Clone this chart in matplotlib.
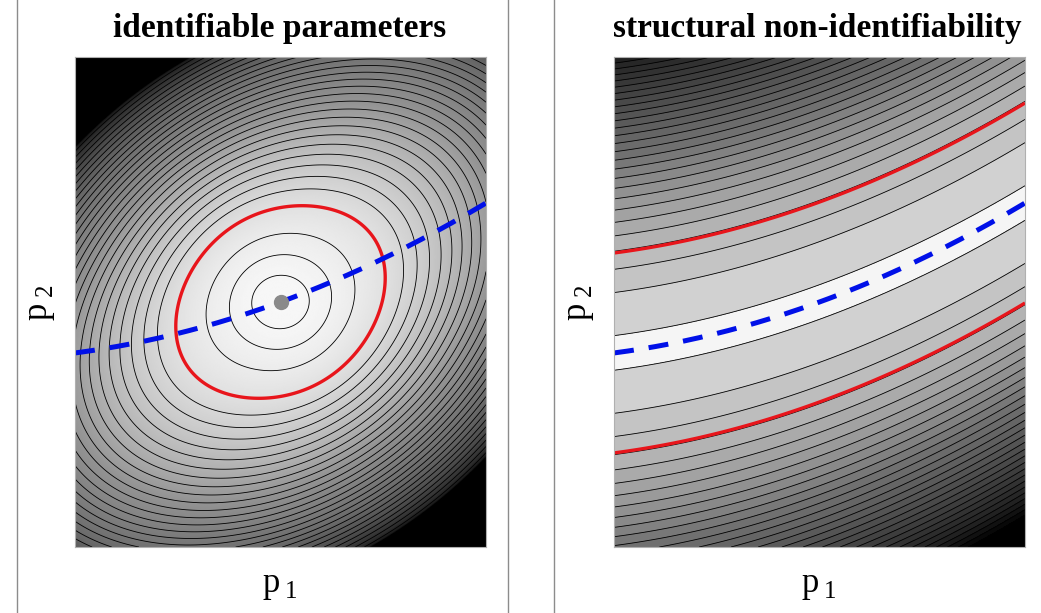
import numpy as np
import matplotlib.pyplot as plt
from matplotlib.lines import Line2D

plt.rcParams['font.family'] = ['Liberation Serif', 'DejaVu Serif']

titles = ["identifiable parameters", "structural non-identifiability"]

# profile path p2 = v1*p1 + v2*p1^2 (same in both panels)
valley = [0.306, 0.098]
# left: a*p1^2 + c*p2^2 + 2*b*t*p1*p2, the tilt t grows with distance from the optimum
quad = [4.09, -2.02, 6.73]
rho0 = 0.4
# right: only the distance w from the valley matters, red at |w| = w_red
w_red = 0.408
red_level = 1.0

# contour levels (red contour = 1)
left_levels = [0.08, 0.25, 0.52] + list(np.arange(1.36, 14.0, 0.3))
right_levels = list(0.03 + 0.335 * np.arange(0, 41))

# shading: left is smooth, right is banded
left_f = [0, 1, 4, 6.5, 7.8, 8.7, 9.05, 9.1, 30]
left_gray = [0.97, 0.88, 0.58, 0.42, 0.30, 0.18, 0.10, 0.0, 0.0]
band_k = [0, 1, 2, 3, 4, 12, 26, 30, 45]
band_gray = [0.96, 0.82, 0.77, 0.74, 0.70, 0.44, 0.13, 0.0, 0.0]

n = 600
p1 = np.linspace(-1, 1, n)
p2 = np.linspace(-1, 1, n)
X, Y = np.meshgrid(p1, p2)
a, b, c = quad
R2 = X**2 + Y**2
T = R2 / (R2 + rho0**2)
F_left = a * X**2 + c * Y**2 + 2 * b * T * X * Y
F_right = ((Y - valley[0] * X - valley[1] * X**2) / w_red) ** 2
path = valley[0] * p1 + valley[1] * p1**2

fig = plt.figure(figsize=(10.41, 6.13), dpi=100)
ax1 = fig.add_axes([75 / 1041, 1 - 547 / 613, 411 / 1041, 490 / 613])
ax2 = fig.add_axes([614 / 1041, 1 - 547 / 613, 411 / 1041, 490 / 613])

# left panel
shade = np.interp(F_left, left_f, left_gray)
ax1.imshow(shade, cmap='gray', vmin=0, vmax=1, origin='lower',
           extent=[-1, 1, -1, 1], aspect='auto', interpolation='bilinear')
ax1.contour(X, Y, F_left, levels=left_levels, colors='black', linewidths=0.6)
ax1.contour(X, Y, F_left, levels=[red_level], colors='#e8151b', linewidths=2.4)
ax1.plot(p1, path, color='#0010e8', lw=3.6, dashes=(4, 3))
ax1.plot(0, 0, 'o', color='#8a8a8a', markersize=10, zorder=5)

# right panel
bounds = [0] + right_levels
colors = [str(g) for g in np.interp(np.arange(len(bounds) - 1), band_k, band_gray)]
ax2.contourf(X, Y, F_right, levels=bounds, colors=colors, extend='max')
ax2.contour(X, Y, F_right, levels=right_levels, colors='black', linewidths=0.6)
ax2.contour(X, Y, F_right, levels=[red_level], colors='#e8151b', linewidths=2.4)
ax2.plot(p1, path, color='#0010e8', lw=3.6, dashes=(4, 3))

for ax in (ax1, ax2):
    ax.set_xlim(-1, 1)
    ax.set_ylim(-1, 1)
    ax.set_xticks([])
    ax.set_yticks([])
    for s in ax.spines.values():
        s.set_color('#b0b0b0')
        s.set_linewidth(0.8)

# titles
for cx, t in zip([280, 817], titles):
    fig.text(cx / 1041, 1 - 29 / 613, t, ha='center', va='center',
             fontsize=24, fontweight='bold')

# axis labels: "p" with a large, low subscript
W, H = 1041, 613
for px in [271, 810]:
    fig.text(px / W, 1 - 584 / H, 'p', ha='center', va='center', fontsize=25)
    fig.text((px + 20) / W, 1 - 592 / H, '1', ha='center', va='center', fontsize=18)
for px in [38, 577]:
    fig.text(px / W, 1 - 311 / H, 'p', ha='center', va='center', fontsize=25, rotation=90)
    fig.text((px + 8) / W, 1 - 290 / H, '2', ha='center', va='center', fontsize=18, rotation=90)

# panel separators
for x in [17, 508, 554]:
    fig.add_artist(Line2D([x / W, x / W], [0, 1], transform=fig.transFigure,
                          color='#8c8c8c', lw=1.0))

fig.savefig('out.png', dpi=100)
